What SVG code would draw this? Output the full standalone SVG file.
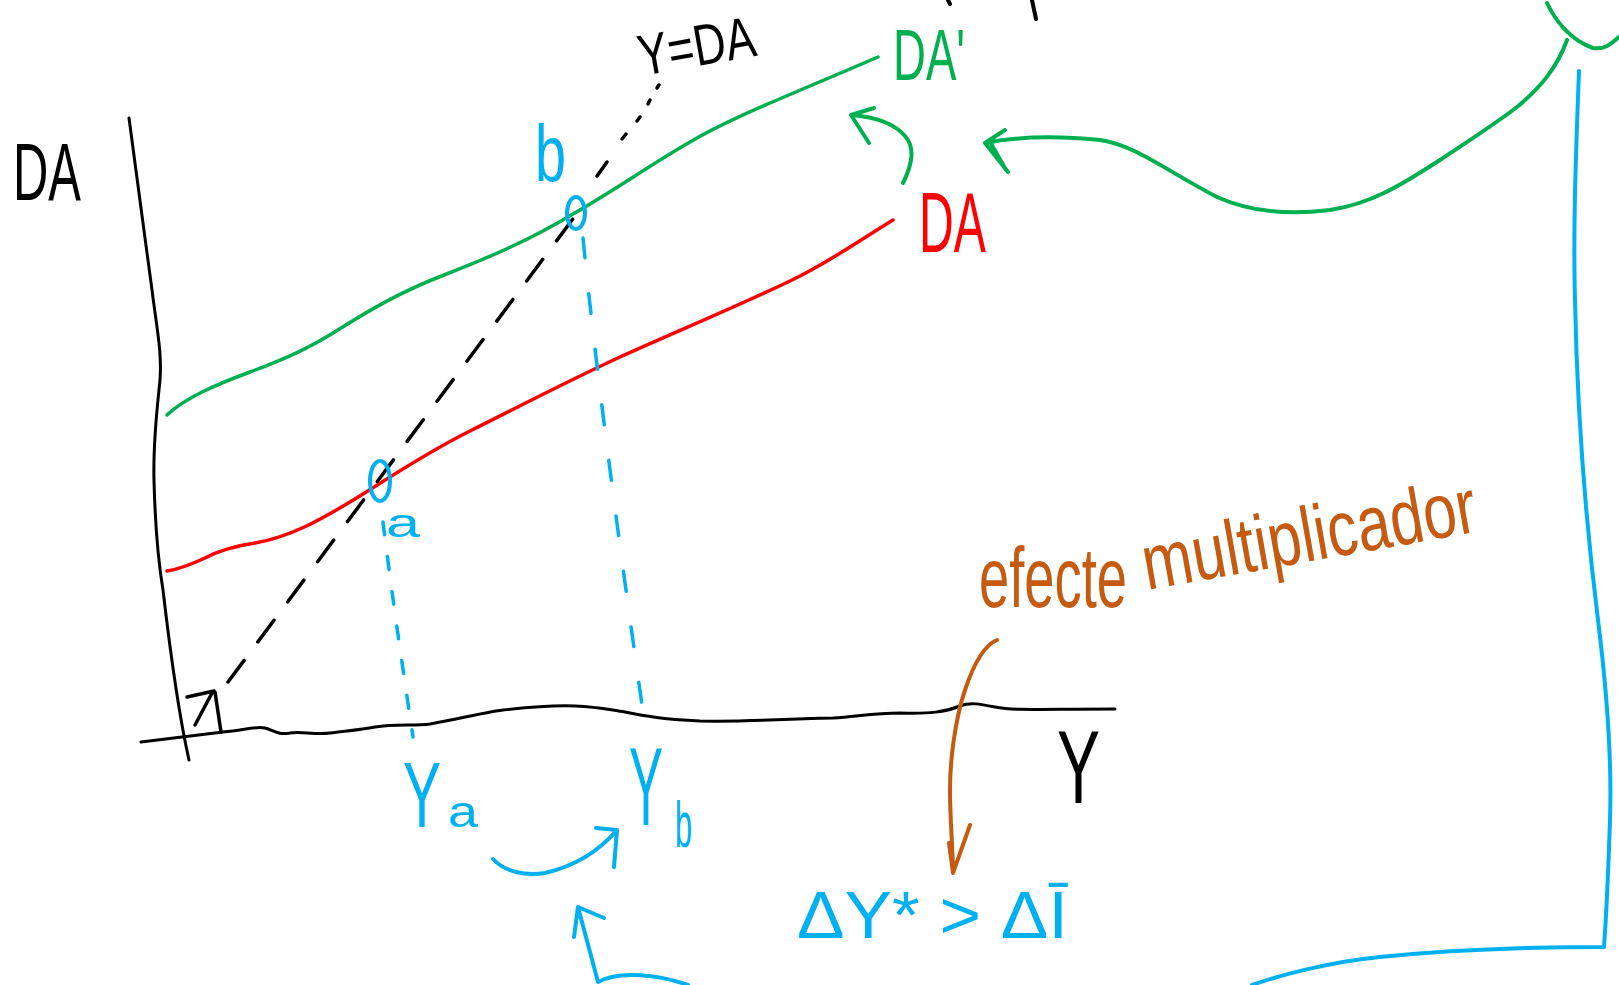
<svg xmlns="http://www.w3.org/2000/svg" width="1619" height="985" viewBox="0 0 1619 985">
<style>
.ln{fill:none;stroke-linecap:round;stroke-linejoin:round}
.k{stroke:#000}
.g{stroke:#00b050}
.r{stroke:#ff0000}
.c{stroke:#00b0f0}
.o{stroke:#c55a11}
.t{font-family:"Liberation Sans",Arial,sans-serif}
.tk{fill:#000}.tg{fill:#00b050}.tr{fill:#ff0000}.tc{fill:#00b0f0}.to{fill:#c55a11}
</style>
<rect width="1619" height="985" fill="#fff"/>
<g id="axis-y"><path class="ln k" stroke-width="3" d="M129,118 C135,165 145,237 152,290 C157,330 162,352 160,380 C157,410 153,440 154,480 C155,520 158,560 163,590 C170,650 180,720 189,760"/></g>
<g id="axis-x"><path class="ln k" stroke-width="3" d="M141,742 L223,732 C245,730 255,726 265,728 C275,731 278,735 290,733 C300,731 315,735 330,733 C345,731 360,730 375,727 C395,724 415,726 430,724 C455,720 480,713 503,710 C530,707 555,705 575,706 C600,707 610,710 625,712 C645,716 660,719 700,721 C760,722 800,718 833,718 C860,716 875,713 900,713 C930,714 945,712 960,706 C970,702 980,704 995,707 C1015,711 1040,709 1115,709"/></g>
<g id="angle-mark"><path class="ln k" stroke-width="3.5" d="M195,725 L212,693 M187,697 L214,691 M215,692 L221,732"/></g>
<g id="curve-DA-prime"><path class="ln g" stroke-width="3.5" d="M167,415 C185,398 215,385 250,372 C285,359 310,348 341,328 C370,310 400,292 444,275 C490,257 530,240 573,214 C615,190 650,165 690,142 C730,118 790,95 878,57"/></g>
<g id="curve-DA"><path class="ln r" stroke-width="3.5" d="M167,571 C180,569 190,565 205,558 C220,550 235,546 255,543 C290,537 320,520 350,502 C380,484 420,456 470,431 C520,406 570,380 620,357 C680,330 740,305 790,281 C830,262 860,240 893,220"/></g>
<g id="connectors">
<path class="ln k" stroke-width="3.5" stroke-dasharray="27 23" d="M228,682 L578,212"/>
<path class="ln k" stroke-width="3.5" d="M597,176 L607,162 M622,139 L626,134 M637,121 L640,117 M648,104 L650,100 M657,88 L659,85"/>
<path class="ln c" stroke-width="3.5" stroke-dasharray="13 22" d="M383,522 C390,580 400,650 413,737"/>
<path class="ln c" stroke-width="3.5" stroke-dasharray="20 36" d="M583,238 C592,330 610,480 643,712"/>
<path class="ln g" stroke-width="4" d="M903,183 C912,165 916,148 905,136 C895,124 875,117 851,115 M874,108 L851,115 L869,143"/>
<path class="ln g" stroke-width="4" d="M985,143 C1020,136 1060,136 1100,140 C1135,145 1165,170 1217,197 C1250,212 1290,215 1330,210 C1370,204 1400,186 1440,160 C1470,140 1495,124 1517,107 C1540,88 1557,68 1567,40 M1005,130 L985,143 L1008,172 M989,140 L1006,170"/>
<path class="ln g" stroke-width="4" d="M1547,3 C1555,20 1570,40 1593,48 C1605,50 1612,43 1619,37"/>
<path class="ln c" stroke-width="4" d="M493,859 C505,872 525,876 545,873 C575,866 600,850 617,830 M596,828 L617,830 L614,867"/>
<path class="ln c" stroke-width="4" d="M688,985 C660,975 620,970 598,982 L578,907 M574,937 L578,907 L604,918"/>
<path class="ln c" stroke-width="4" d="M1579,71 C1576,150 1573,230 1575,300 C1577,400 1583,500 1598,620 C1608,700 1612,760 1610,820 C1608,880 1606,920 1604,947 C1540,947 1450,950 1380,957 C1330,962 1280,975 1252,985"/>
<path class="ln o" stroke-width="4" d="M997,640 C985,645 975,660 965,690 C955,720 950,760 950,790 C950,820 953,850 953,873 M970,825 L953,873 L949,843"/>
<path class="ln k" stroke-width="4" d="M1032,0 L1036,19 M948,0 L950,4"/>
</g>
<g id="point-a"><ellipse class="ln c" stroke-width="4" cx="380" cy="481" rx="10" ry="20"/><text class="t tc" x="386" y="537" font-size="40" textLength="34" lengthAdjust="spacingAndGlyphs">a</text></g>
<g id="point-b"><ellipse class="ln c" stroke-width="4" cx="576" cy="213" rx="9" ry="16"/><text class="t tc" x="535" y="181" font-size="80" textLength="31" lengthAdjust="spacingAndGlyphs">b</text></g>
<g id="label-DA-axis"><text class="t tk" x="13" y="200" font-size="82" textLength="68" lengthAdjust="spacingAndGlyphs">DA</text></g>
<g id="label-Y-DA"><text class="t tk" x="642" y="76" font-size="58" textLength="118" lengthAdjust="spacingAndGlyphs" transform="rotate(-10 642 76)">Y=DA</text></g>
<g id="label-DA-prime"><text class="t tg" x="893" y="80" font-size="72" textLength="72" lengthAdjust="spacingAndGlyphs">DA'</text></g>
<g id="label-DA"><text class="t tr" x="919" y="252" font-size="86" textLength="67" lengthAdjust="spacingAndGlyphs">DA</text></g>
<g id="label-Ya"><text class="t tc" x="0" y="0" font-size="92" transform="translate(403 827) scale(0.62 1)">Y</text><text class="t tc" x="448" y="827" font-size="44" textLength="30" lengthAdjust="spacingAndGlyphs">a</text></g>
<g id="label-Yb"><text class="t tc" x="0" y="0" font-size="112" transform="translate(629 825) scale(0.455 1)">Y</text><text class="t tc" x="0" y="0" font-size="64" transform="translate(675 847) scale(0.48 1)">b</text></g>
<g id="label-Y"><text class="t tk" x="1057" y="803" font-size="104" textLength="43" lengthAdjust="spacingAndGlyphs">Y</text></g>
<g id="label-efecte-multiplicador"><text class="t to" x="979" y="607" font-size="85" textLength="148" lengthAdjust="spacingAndGlyphs">efecte</text><text class="t to" x="1147" y="590" font-size="78" textLength="338" lengthAdjust="spacingAndGlyphs" transform="rotate(-10 1147 590)">multiplicador</text></g>
<g id="label-inequality"><text class="t tc" x="797" y="938" font-size="66" textLength="271" lengthAdjust="spacingAndGlyphs">ΔY* &gt; ΔĪ</text></g>
</svg>
